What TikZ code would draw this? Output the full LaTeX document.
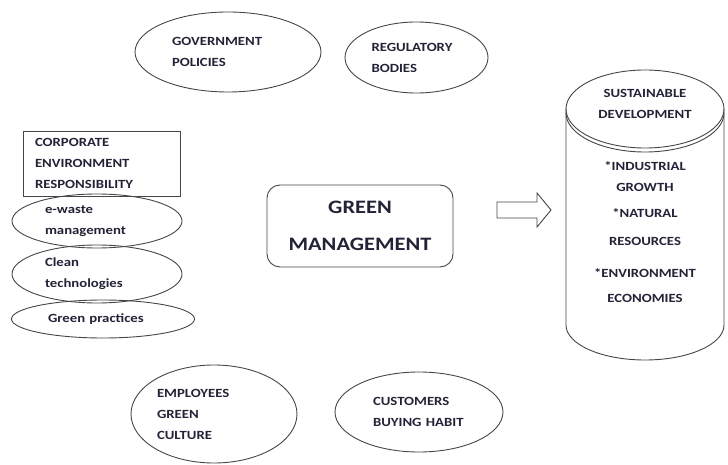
\documentclass[tikz,border=0pt]{standalone}
\usepackage{fontspec}
\setmainfont{Carlito}[FakeStretch=1.18]
\usetikzlibrary{shapes.geometric}
\definecolor{ink}{RGB}{35,35,55}
\definecolor{edge}{RGB}{70,70,70}
\tikzset{
  every node/.style={font=\bfseries\fontsize{12.5}{21}\selectfont, text=ink},
  oval/.style={draw=edge, line width=0.9pt, ellipse, inner sep=0pt, align=left},
  plainbox/.style={draw=edge, line width=0.9pt, rectangle, inner sep=0pt},
  lines/.style={draw=edge, line width=0.9pt},
}
\begin{document}
\begin{tikzpicture}[x=1pt,y=1pt]
\useasboundingbox (0,0) rectangle (728,464);
% top ellipses
\node[oval, minimum width=186, minimum height=80, text width=112] (gov) at (228,412) {GOVERNMENT\\POLICIES};
\node[oval, minimum width=143, minimum height=71, text width=90] (reg) at (416.5,406.5) {REGULATORY\\BODIES};
% left column
\node[plainbox, minimum width=157, minimum height=65, text width=133, align=left] (corp) at (101.5,300.5) {CORPORATE\\ENVIRONMENT\\RESPONSIBILITY};
\node[oval, minimum width=170, minimum height=54, text width=104] (ew) at (97,243) {e-waste\\management};
\node[oval, minimum width=170, minimum height=58, text width=104] (clean) at (97,190) {Clean\\technologies};
\node[oval, minimum width=183, minimum height=38, text width=110] (gp) at (103,145) {Green practices};
% centre
\node[plainbox, rounded corners=13pt, minimum width=186, minimum height=82, align=center,
      font=\bfseries\fontsize{19}{37}\selectfont] (gm) at (360,238) {GREEN\\MANAGEMENT};
% bottom ellipses
\node[oval, minimum width=166, minimum height=98, text width=114] (emp) at (214,50) {EMPLOYEES\\GREEN\\CULTURE};
\node[oval, minimum width=168, minimum height=80, text width=92] (cust) at (419,52) {CUSTOMERS\\BUYING HABIT};
% block arrow
\draw[lines] (497,262) -- (537,262) -- (537,271) -- (551,254) -- (537,237) -- (537,246) -- (497,246) -- cycle;
% cylinder
\draw[lines] (566,355) -- (566,139) arc[start angle=180, end angle=360, x radius=79, y radius=35] -- (724,355);
\draw[lines] (645,355) ellipse[x radius=79, y radius=39];
\draw[lines] (566,351) arc[start angle=180, end angle=360, x radius=79, y radius=39];
\node[align=center] (sd) at (645,360.5) {SUSTAINABLE\\DEVELOPMENT};
\node[align=center] (ig) at (645,287) {*INDUSTRIAL\\GROWTH};
\node[align=center] (nr) at (645,236.5) {*NATURAL\\[7pt]RESOURCES};
\node[align=center] (ee) at (645,178.5) {*ENVIRONMENT\\[4pt]ECONOMIES};
\end{tikzpicture}
\end{document}
